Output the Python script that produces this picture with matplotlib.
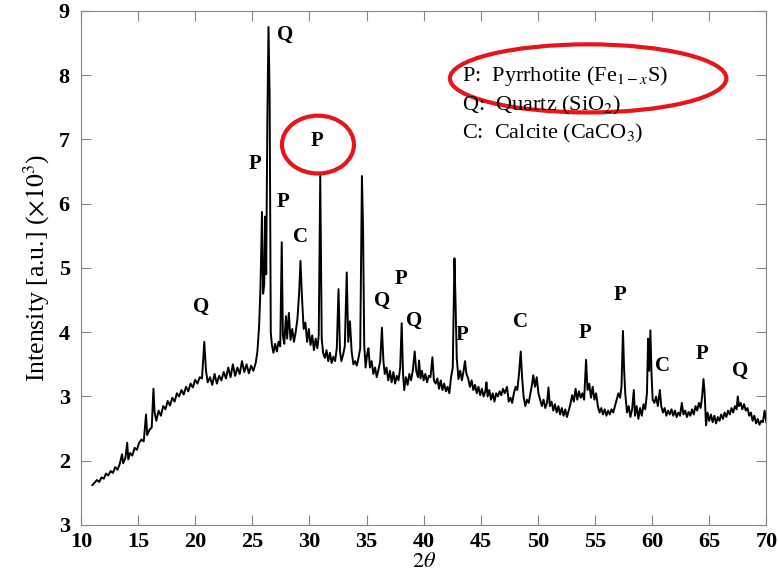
import numpy as np
import matplotlib.pyplot as plt
from matplotlib.patches import Ellipse

plt.rcParams['font.family'] = ['Liberation Serif', 'DejaVu Serif']
plt.rcParams['mathtext.fontset'] = 'stix'

# XRD scan, (2theta, intensity x10^3)
scan_low = [
    (11.0, 1.62), (11.2, 1.66), (11.4, 1.70), (11.6, 1.67), (11.8, 1.74), (12.0, 1.72),
    (12.2, 1.80), (12.4, 1.77), (12.6, 1.84), (12.8, 1.81), (13.0, 1.90), (13.2, 1.86),
    (13.4, 1.95), (13.6, 2.10), (13.7, 1.96), (13.9, 2.05), (14.05, 2.28), (14.15, 2.02),
    (14.3, 2.12), (14.5, 2.08), (14.7, 2.20), (14.9, 2.17), (15.1, 2.28), (15.3, 2.33),
    (15.5, 2.30), (15.7, 2.72), (15.8, 2.40), (16.0, 2.48), (16.2, 2.52), (16.35, 3.12),
    (16.45, 2.75), (16.6, 2.62), (16.8, 2.78), (17.0, 2.70), (17.2, 2.85), (17.4, 2.80),
    (17.6, 2.93), (17.8, 2.86), (18.0, 2.98), (18.2, 2.92), (18.4, 3.05), (18.6, 3.00),
    (18.8, 3.10), (19.0, 3.03), (19.2, 3.15), (19.4, 3.08), (19.6, 3.20), (19.8, 3.14),
    (20.0, 3.26), (20.2, 3.20), (20.4, 3.30), (20.6, 3.28), (20.8, 3.85), (20.95, 3.40),
    (21.1, 3.22), (21.3, 3.30), (21.5, 3.18), (21.7, 3.35), (21.9, 3.20), (22.1, 3.32),
    (22.3, 3.25), (22.5, 3.38), (22.7, 3.28), (22.9, 3.45), (23.1, 3.30), (23.3, 3.50),
    (23.5, 3.32), (23.7, 3.45), (23.9, 3.35), (24.1, 3.55), (24.3, 3.38), (24.5, 3.50),
    (24.7, 3.36), (24.9, 3.48), (25.1, 3.40), (25.3, 3.52),
]

scan_main = [
    (25.45, 3.70), (25.6, 4.10), (25.72, 4.70), (25.85, 5.87), (25.95, 4.60), (26.05, 4.75),
    (26.13, 5.80), (26.22, 4.90), (26.32, 7.30), (26.42, 8.75), (26.52, 7.70), (26.62, 4.00),
    (26.72, 3.80), (26.85, 3.68), (27.0, 3.82), (27.15, 3.70), (27.3, 3.85), (27.45, 3.78),
    (27.58, 5.40), (27.68, 3.95), (27.8, 3.82), (27.95, 4.25), (28.05, 3.90), (28.2, 4.30),
    (28.35, 3.88), (28.5, 4.05), (28.65, 3.85), (28.8, 4.00), (28.95, 4.20), (29.1, 4.60),
    (29.22, 5.11), (29.35, 4.55), (29.5, 4.05), (29.65, 4.15), (29.8, 3.85), (29.95, 4.05),
    (30.1, 3.80), (30.25, 3.95), (30.4, 3.72), (30.55, 3.90), (30.7, 3.75), (30.82, 3.95),
    (30.95, 6.43), (31.08, 3.90), (31.2, 3.68), (31.35, 3.60), (31.5, 3.72), (31.65, 3.55),
    (31.8, 3.68), (31.95, 3.52), (32.1, 3.62), (32.25, 3.55), (32.4, 3.75), (32.55, 4.67),
    (32.68, 3.70), (32.8, 3.55), (32.95, 3.65), (33.1, 3.78), (33.27, 4.93), (33.4, 3.85),
    (33.55, 4.17), (33.7, 3.70), (33.85, 3.50), (34.0, 3.55), (34.15, 3.48), (34.3, 3.60),
    (34.45, 3.75), (34.6, 6.43), (34.7, 5.60), (34.8, 3.80), (34.92, 3.45),
]

scan_mid = [
    (35.05, 3.65), (35.17, 3.75), (35.3, 3.45), (35.45, 3.55), (35.6, 3.35), (35.75, 3.45),
    (35.9, 3.30), (36.05, 3.42), (36.2, 3.55), (36.35, 4.07), (36.48, 3.55), (36.6, 3.35),
    (36.75, 3.45), (36.9, 3.25), (37.05, 3.40), (37.2, 3.22), (37.35, 3.38), (37.5, 3.20),
    (37.65, 3.32), (37.8, 3.25), (37.95, 3.45), (38.08, 4.14), (38.2, 3.35), (38.3, 3.10),
    (38.45, 3.30), (38.6, 3.18), (38.75, 3.35), (38.9, 3.25), (39.05, 3.40), (39.22, 3.70),
    (39.35, 3.40), (39.5, 3.30), (39.6, 3.56), (39.72, 3.28), (39.85, 3.40), (40.0, 3.25),
    (40.15, 3.35), (40.3, 3.22), (40.45, 3.32), (40.6, 3.30), (40.77, 3.61), (40.9, 3.25),
    (41.05, 3.20), (41.2, 3.28), (41.35, 3.12), (41.5, 3.25), (41.65, 3.10), (41.8, 3.20),
    (41.95, 3.08), (42.1, 3.15), (42.25, 3.05), (42.4, 3.30), (42.55, 3.45), (42.7, 5.15),
    (42.8, 4.42), (42.9, 3.60), (43.05, 3.27), (43.2, 3.40), (43.35, 3.25), (43.5, 3.40),
    (43.62, 3.55), (43.75, 3.35), (43.9, 3.28), (44.05, 3.15), (44.2, 3.25), (44.35, 3.10),
    (44.5, 3.18), (44.65, 3.05), (44.8, 3.15), (44.95, 3.02), (45.1, 3.12), (45.25, 3.00),
    (45.4, 3.08), (45.5, 3.22), (45.6, 3.00), (45.75, 3.10), (45.9, 2.95), (46.05, 3.05),
    (46.2, 2.92), (46.35, 3.05), (46.5, 3.00), (46.65, 3.08), (46.8, 3.02), (46.95, 3.12),
    (47.1, 3.05), (47.3, 3.15), (47.45, 2.92), (47.6, 2.98), (47.75, 2.90), (47.9, 3.05),
    (48.05, 3.15), (48.2, 3.10), (48.35, 3.35), (48.5, 3.70), (48.62, 3.30), (48.75, 3.00),
    (48.9, 2.85), (49.05, 2.95), (49.2, 2.90), (49.35, 3.05), (49.5, 3.20), (49.6, 3.33),
    (49.75, 3.15), (49.9, 3.30), (50.05, 3.05), (50.2, 2.95), (50.35, 2.85), (50.5, 2.95),
    (50.65, 2.82), (50.8, 2.90), (50.93, 3.14), (51.05, 2.85), (51.2, 2.92), (51.35, 2.78),
    (51.5, 2.88), (51.65, 2.75), (51.8, 2.85), (51.95, 2.72), (52.1, 2.82), (52.25, 2.70),
    (52.4, 2.80), (52.55, 2.68), (52.7, 2.78), (52.85, 2.88),
]

scan_high = [
    (53.0, 3.02), (53.15, 2.92), (53.3, 3.12), (53.45, 2.95), (53.6, 3.08), (53.75, 2.98),
    (53.9, 3.05), (54.05, 2.95), (54.22, 3.57), (54.35, 3.10), (54.5, 3.20), (54.65, 2.98),
    (54.8, 3.15), (54.95, 2.95), (55.1, 3.05), (55.25, 2.85), (55.4, 2.75), (55.55, 2.82),
    (55.7, 2.72), (55.85, 2.80), (56.0, 2.70), (56.15, 2.78), (56.3, 2.72), (56.45, 2.80),
    (56.6, 2.75), (56.75, 2.85), (56.9, 2.95), (57.05, 3.05), (57.2, 2.98), (57.32, 3.15),
    (57.45, 4.02), (57.55, 3.42), (57.65, 3.05), (57.8, 2.75), (57.95, 2.85), (58.1, 2.68),
    (58.25, 2.80), (58.4, 3.10), (58.5, 2.70), (58.65, 2.85), (58.8, 2.65), (58.95, 2.82),
    (59.1, 2.70), (59.25, 2.88), (59.4, 2.80), (59.55, 3.05), (59.65, 3.90), (59.75, 3.40),
    (59.85, 4.03), (59.95, 3.35), (60.05, 2.95), (60.2, 2.90), (60.35, 3.00), (60.5, 2.85),
    (60.68, 3.10), (60.8, 2.85), (60.95, 2.75), (61.1, 2.82), (61.25, 2.70), (61.4, 2.78),
    (61.55, 2.72), (61.7, 2.80), (61.85, 2.70), (62.0, 2.78), (62.15, 2.68), (62.3, 2.75),
    (62.45, 2.70), (62.6, 2.90), (62.75, 2.72), (62.9, 2.78), (63.05, 2.68), (63.2, 2.76),
    (63.35, 2.70), (63.5, 2.80), (63.65, 2.72), (63.8, 2.85), (63.95, 2.78), (64.1, 2.90),
    (64.25, 2.82), (64.38, 3.00), (64.5, 3.27), (64.6, 3.05), (64.72, 2.55), (64.85, 2.75),
    (65.0, 2.62), (65.15, 2.72), (65.3, 2.60), (65.45, 2.70), (65.6, 2.58), (65.75, 2.68),
    (65.9, 2.62), (66.05, 2.72), (66.2, 2.65), (66.35, 2.75), (66.5, 2.68), (66.65, 2.78),
    (66.8, 2.72), (66.95, 2.82), (67.1, 2.75), (67.25, 2.85), (67.4, 2.80), (67.5, 3.00),
    (67.6, 2.85), (67.75, 2.90), (67.9, 2.80), (68.05, 2.88), (68.2, 2.78), (68.35, 2.82),
    (68.5, 2.70), (68.65, 2.75), (68.8, 2.62), (68.95, 2.70), (69.1, 2.58), (69.25, 2.65),
    (69.4, 2.56), (69.55, 2.62), (69.7, 2.60), (69.85, 2.78), (70.0, 2.60),
]

# phase labels above the peaks: (text, 2theta, intensity)
peak_labels = [
    ('Q', 20.5, 4.39), ('P', 25.2, 6.62), ('Q', 27.9, 8.63), ('P', 27.7, 6.03),
    ('C', 29.2, 5.48), ('P', 30.7, 6.98), ('Q', 36.4, 4.48), ('P', 38.0, 4.83),
    ('Q', 39.2, 4.17), ('P', 43.4, 3.95), ('C', 48.45, 4.16), ('P', 54.15, 3.98),
    ('P', 57.2, 4.58), ('C', 60.9, 3.48), ('P', 64.4, 3.66), ('Q', 67.7, 3.40),
]

legend_lines = [
    r'P:  Pyrrhotite (Fe$_{1-x}$S)',
    r'Q:  Quartz (SiO$_2$)',
    r'C:  Calcite (CaCO$_3$)',
]

ytick_vals = [1, 2, 3, 4, 5, 6, 7, 8, 9]
ytick_text = ['3', '2', '3', '4', '5', '6', '7', '8', '9']

data = np.array(scan_low + scan_main + scan_mid + scan_high)
two_theta, intensity = data[:, 0], data[:, 1]

fig = plt.figure(figsize=(7.78, 5.75), dpi=100)
ax = fig.add_axes([0.104, 0.087, 0.881, 0.894])

ax.plot(two_theta, intensity, color='black', lw=1.4)

for txt, x, y in peak_labels:
    ax.text(x, y, txt, fontsize=15, fontweight='bold', ha='center', va='center')

for i, line in enumerate(legend_lines):
    ax.text(43.4, 7.98 - i * 0.445, line, fontsize=16, ha='left', va='center')

# red highlight circles
ax.add_patch(Ellipse((30.75, 6.92), 6.3, 0.9, fill=False, ec='#e8141a', lw=3))
ax.add_patch(Ellipse((54.4, 7.95), 24.2, 1.06, fill=False, ec='#e8141a', lw=3))

ax.set_xlim(10, 70)
ax.set_ylim(1, 9)
ax.set_xticks(range(10, 71, 5))
ax.set_yticks(ytick_vals)
ax.set_yticklabels(ytick_text)
ax.tick_params(direction='in', length=7, color='#888888', top=True, right=True,
               labelsize=16)
ax.tick_params(axis='x', pad=5)
ax.tick_params(axis='y', pad=8)
for lab in ax.get_xticklabels() + ax.get_yticklabels():
    lab.set_fontweight('bold')
for sp in ax.spines.values():
    sp.set_color('#888888')

ax.set_xlabel(r'$2\theta$', fontsize=16, labelpad=1)
ax.set_ylabel(r'Intensity [a.u.] ($\times 10^3$)', fontsize=18.5, labelpad=5)

fig.savefig('out.png', dpi=100)
